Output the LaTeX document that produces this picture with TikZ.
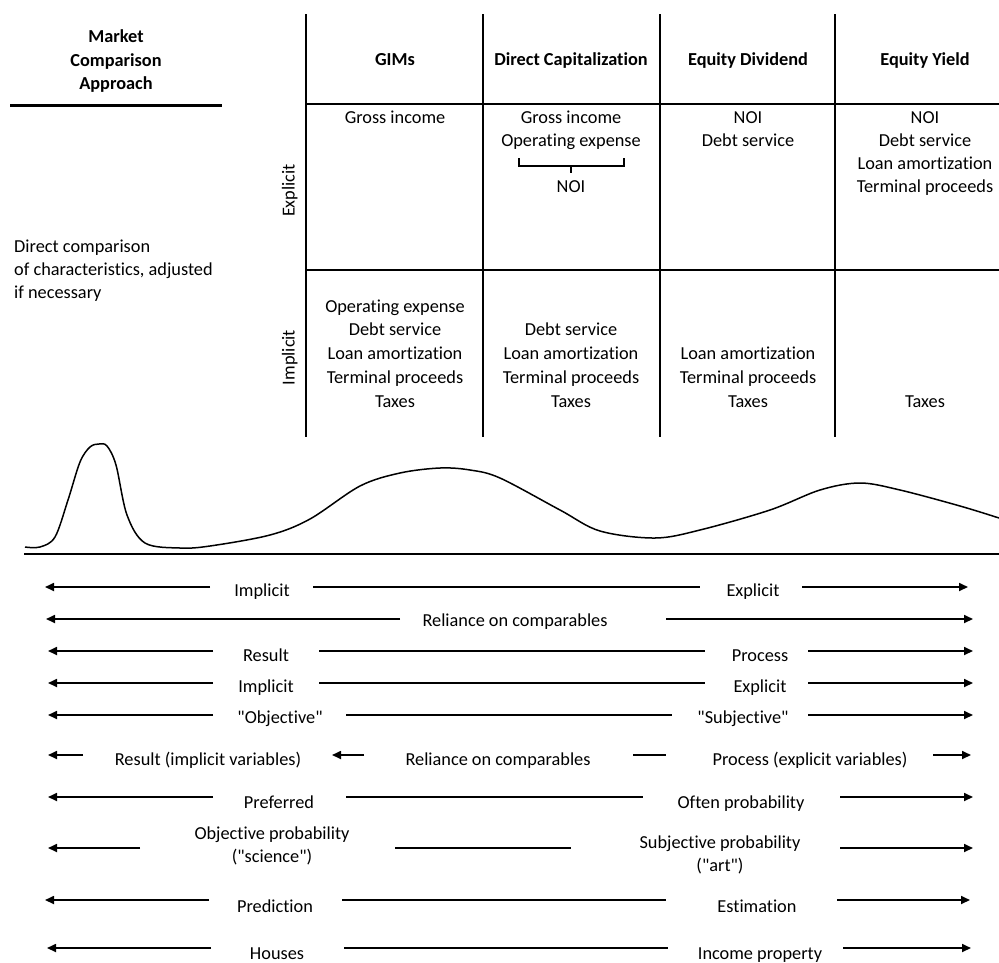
\documentclass[tikz,border=0pt]{standalone}
\usepackage{fontspec}
\setmainfont{Carlito}[Ligatures={NoCommon}]
\usetikzlibrary{arrows.meta}
\newcommand\seg[5]{\coordinate (#1s) at (#2,#4); \coordinate (#1e) at (#3,#4); \draw[#5] (#1s) -- (#1e);}
\newcommand\qq{\textquotedbl}
\begin{document}
\begin{tikzpicture}[x=1pt,y=-1pt,
  txt/.style={inner sep=0pt, font=\fontsize{18.3}{23}\selectfont, text height=0.7em, text depth=0.2em, align=center, yshift=-2.5pt},
  hdr/.style={txt, font=\fontsize{18.3}{23}\selectfont\bfseries},
  grid/.style={line width=1.2pt},
  ln/.style={line width=1.7pt},
  arr/.style={line width=1.7pt, -{Triangle[length=9pt,width=8pt]}}]
\useasboundingbox (0,0) rectangle (999,962);
% top-left
\node[hdr] (m1) at (116,37) {Market};
\node[hdr] (m2) at (116,61) {Comparison};
\node[hdr] (m3) at (116,84) {Approach};
\coordinate (tl1) at (10,105); \coordinate (tl2) at (222,105);
\draw[line width=3pt] (tl1) -- (tl2);
\node[txt, anchor=west] (d1) at (14,247) {Direct comparison};
\node[txt, anchor=west] (d2) at (14,270) {of characteristics, adjusted};
\node[txt, anchor=west] (d3) at (14,293) {if necessary};
% grid
\foreach \x/\n in {306/a,483/b,660/c,835/d}{
  \coordinate (v\n1) at (\x,14); \coordinate (v\n2) at (\x,437);
  \draw[grid] (v\n1) -- (v\n2);}
\coordinate (h1a) at (306,104); \coordinate (h1b) at (999,104);
\coordinate (h2a) at (306,270); \coordinate (h2b) at (999,270);
\draw[grid] (h1a) -- (h1b); \draw[grid] (h2a) -- (h2b);
\node[hdr] (g1) at (395,60) {GIMs};
\node[hdr] (g2) at (571,60) {Direct Capitalization};
\node[hdr] (g3) at (748,60) {Equity Dividend};
\node[hdr] (g4) at (925,60) {Equity Yield};
\node[txt, rotate=90, yshift=0pt] (ex) at (292,188) {Explicit};
\node[txt, rotate=90, yshift=0pt] (im) at (292,355) {Implicit};
% explicit row
\node[txt] (e1) at (395,118) {Gross income};
\node[txt] (e2a) at (571,118) {Gross income};
\node[txt] (e2b) at (571,141) {Operating expense};
\coordinate (br1) at (519,158); \coordinate (br2) at (519,166); \coordinate (br3) at (624,166); \coordinate (br4) at (624,158);
\coordinate (brc) at (571,166); \coordinate (brd) at (571,173);
\draw[grid] (br1) -- (br2) -- (br3) -- (br4);
\draw[grid] (brc) -- (brd);
\node[txt] (e2c) at (571,187) {NOI};
\node[txt] (e3a) at (748,118) {NOI};
\node[txt] (e3b) at (748,141) {Debt service};
\node[txt] (e4a) at (925,118) {NOI};
\node[txt] (e4b) at (925,141) {Debt service};
\node[txt] (e4c) at (925,164) {Loan amortization};
\node[txt] (e4d) at (925,187) {Terminal proceeds};
% implicit row
\node[txt] (i1a) at (395,307) {Operating expense};
\node[txt] (i1b) at (395,330) {Debt service};
\node[txt] (i1c) at (395,354) {Loan amortization};
\node[txt] (i1d) at (395,378) {Terminal proceeds};
\node[txt] (i1e) at (395,402) {Taxes};
\node[txt] (i2b) at (571,330) {Debt service};
\node[txt] (i2c) at (571,354) {Loan amortization};
\node[txt] (i2d) at (571,378) {Terminal proceeds};
\node[txt] (i2e) at (571,402) {Taxes};
\node[txt] (i3c) at (748,354) {Loan amortization};
\node[txt] (i3d) at (748,378) {Terminal proceeds};
\node[txt] (i3e) at (748,402) {Taxes};
\node[txt] (i4e) at (925,402) {Taxes};
% curve
\coordinate (base1) at (24,554); \coordinate (base2) at (999,554);
\draw[line width=1.5pt] (base1) -- (base2);
\draw[line width=1.5pt] plot[smooth, tension=0.55] coordinates {(25,547) (40,547) (55,537) (68,500) (80,462) (90,447) (99,444) (107,446) (116,465) (127,515) (145,543) (180,548) (210,546) (270,535) (310,519) (360,486) (400,473) (440,468) (470,470) (500,478) (560,510) (600,531) (655,538) (700,530) (770,510) (820,490) (860,483) (900,490) (960,506) (999,518)};
% arrow rows
% row 1
\node[txt] (r1l) at (262,591) {Implicit};
\node[txt] (r1r) at (753,591) {Explicit};
\seg{r1a}{210}{45}{587}{arr}
\seg{r1b}{313}{700}{587}{ln}
\seg{r1c}{802}{968}{587}{arr}
% row 2
\node[txt] (r2m) at (515,621) {Reliance on comparables};
\seg{r2a}{400}{46}{619}{arr}
\seg{r2b}{666}{973}{619}{arr}
% row 3
\node[txt] (r3l) at (266,656) {Result};
\node[txt] (r3r) at (760,656) {Process};
\seg{r3a}{213}{48}{651}{arr}
\seg{r3b}{319}{705}{651}{ln}
\seg{r3c}{808}{973}{651}{arr}
% row 4
\node[txt] (r4l) at (266,687) {Implicit};
\node[txt] (r4r) at (760,687) {Explicit};
\seg{r4a}{213}{48}{683}{arr}
\seg{r4b}{319}{705}{683}{ln}
\seg{r4c}{808}{973}{683}{arr}
% row 5
\node[txt] (r5l) at (280,718) {\qq Objective\qq};
\node[txt] (r5r) at (743,718) {\qq Subjective\qq};
\seg{r5a}{213}{48}{715}{arr}
\seg{r5b}{346}{672}{715}{ln}
\seg{r5c}{808}{973}{715}{arr}
% row 6
\node[txt] (r6l) at (208,760) {Result (implicit variables)};
\node[txt] (r6m) at (498,760) {Reliance on comparables};
\node[txt] (r6r) at (810,760) {Process (explicit variables)};
\seg{r6a}{83}{48}{755}{arr}
\seg{r6b}{364}{332}{755}{arr}
\seg{r6c}{633}{666}{755}{ln}
\seg{r6d}{933}{971}{755}{arr}
% row 7
\node[txt] (r7l) at (279,803) {Preferred};
\node[txt] (r7r) at (741,803) {Often probability};
\seg{r7a}{213}{48}{797}{arr}
\seg{r7b}{346}{643}{797}{ln}
\seg{r7c}{840}{973}{797}{arr}
% row 8
\node[txt] (r8l) at (272,857) {Objective probability\\(\qq science\qq)};
\node[txt] (r8r) at (720,866) {Subjective probability\\(\qq art\qq)};
\seg{r8a}{140}{48}{848}{arr}
\seg{r8b}{395}{571}{848}{ln}
\seg{r8c}{840}{973}{848}{arr}
% row 9
\node[txt] (r9l) at (275,907) {Prediction};
\node[txt] (r9r) at (757,907) {Estimation};
\seg{r9a}{209}{45}{900}{arr}
\seg{r9b}{342}{666}{900}{ln}
\seg{r9c}{837}{970}{900}{arr}
% row 10
\node[txt] (r10l) at (277,954) {Houses};
\node[txt] (r10r) at (760,954) {Income property};
\seg{r10a}{211}{47}{948}{arr}
\seg{r10b}{344}{668}{948}{ln}
\seg{r10c}{843}{971}{948}{arr}
\end{tikzpicture}
\end{document}
